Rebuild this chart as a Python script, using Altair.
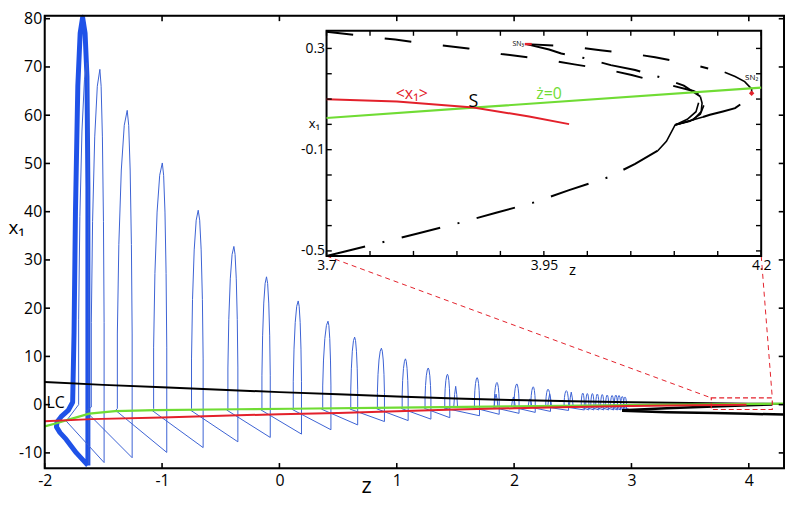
import altair as alt
import pandas as pd

FONT = "Open Sans"
BLUE = "#3b62d4"
BLUE_THICK = "#1f52e8"
RED = "#e3212b"
GREEN = "#70dc34"
BLACK = "#000000"

# ---------------- main frame ----------------
x_ticks = [-2, -1, 0, 1, 2, 3, 4]
y_ticks = [-10, 0, 10, 20, 30, 40, 50, 60, 70, 80]
x_domain = [-2.0, 4.3]
y_domain = [-13.2, 80.6]

# ---------------- main curves ----------------
black_up_z = [-2, -1.5, -1, -0.5, 0, 0.5, 1, 1.5, 2, 2.5, 3, 3.5, 4, 4.3]
black_up_x1 = [4.7, 4.1, 3.6, 3.1, 2.6, 2.15, 1.7, 1.3, 0.95, 0.7, 0.5, 0.35, 0.2, 0.15]
black_lowA_z = [2.92, 3.3, 3.7, 4.0, 4.2]
black_lowA_x1 = [-1.15, -0.75, -0.4, -0.15, 0.05]
black_lowB_z = [2.92, 3.3, 3.7, 4.0, 4.3]
black_lowB_x1 = [-1.25, -1.55, -1.75, -1.9, -2.05]

green_z = [-2, -1.9, -1.76, -1.62, -1.4, -1.06, -0.36, 0.1, 1, 2, 2.96, 4.3]
green_x1 = [-4.5, -3.85, -2.85, -1.85, -1.35, -1.15, -0.95, -0.85, -0.6, -0.35, -0.1, 0.2]

red_z = [-2, -1.6, -1.0, -0.35, 0, 0.5, 1.0, 1.5, 2.0, 2.5, 3.0, 3.5, 3.98]
red_x1 = [-3.45, -3.0, -2.65, -2.2, -2.0, -1.75, -1.35, -1.0, -0.75, -0.5, -0.3, -0.1, 0.0]

# thick (repeated) first cycle
thick_z = [-1.632, -1.632, -1.640, -1.656, -1.677, -1.698, -1.718, -1.738, -1.750, -1.762,
           -1.800, -1.860, -1.895, -1.900, -1.870, -1.817, -1.730, -1.632]
thick_x1 = [-12.6, 45.0, 68.0, 77.0, 80.3, 77.0, 66.0, 40.0, 15.0, 0.5,
            -1.2, -2.5, -3.6, -4.6, -5.8, -7.2, -10.0, -12.6]

# thin trajectory: one entry per spike
spike_peak_z = [-1.640, -1.530, -1.297, -0.998, -0.692, -0.388, -0.110, 0.160, 0.414, 0.641,
                0.869, 1.074, 1.268, 1.432, 1.685, 1.854, 2.023, 2.163, 2.289, 2.445,
                2.585, 2.624, 2.667, 2.709, 2.751, 2.793, 2.835, 2.867, 2.894, 2.922, 2.945]
spike_peak = [70.9, 69.5, 61.0, 50.1, 40.3, 32.8, 26.5, 21.5, 17.3, 14.0,
              11.7, 9.5, 7.6, 6.3, 5.6, 4.6, 4.3, 3.7, 3.2, 2.9,
              2.4, 2.3, 2.3, 2.2, 2.1, 2.0, 1.9, 2.0, 1.9, 1.7, 1.6]
spike_left = [-1.711, -1.603, -1.381, -1.072, -0.749, -0.439, -0.149, 0.118, 0.369, 0.608,
              0.835, 1.046, 1.241, 1.409, 1.662, 1.831, 2.000, 2.143, 2.270, 2.426,
              2.572, 2.611, 2.654, 2.696, 2.738, 2.780, 2.822, 2.854, 2.881, 2.909, 2.932]
spike_right = [-1.625, -1.494, -1.255, -0.960, -0.650, -0.354, -0.078, 0.188, 0.439, 0.667,
               0.895, 1.097, 1.291, 1.452, 1.705, 1.873, 2.042, 2.180, 2.310, 2.464,
               2.598, 2.637, 2.680, 2.722, 2.764, 2.806, 2.848, 2.880, 2.907, 2.935, 2.958]
spike_min = [-12.3, -12.0, -11.0, -9.9, -8.9, -7.7, -6.8, -6.1, -5.2, -4.2,
             -3.5, -3.3, -3.0, -2.7, -2.3, -2.0, -1.8, -1.6, -1.4, -1.2,
             -1.1, -1.1, -1.1, -1.1, -1.1, -1.1, -1.1, -1.1, -1.1, -1.1, -1.1]
spike_base = [0.0, -0.5, -0.8, -0.8, -0.8, -0.8, -0.7, -0.7, -0.6, -0.6,
              -0.5, -0.5, -0.5, -0.4, -0.4, -0.4, -0.3, -0.3, -0.3, -0.3,
              -0.3, -0.3, -0.3, -0.3, -0.3, -0.3, -0.3, -0.3, -0.3, -0.3, -0.3]
corner_z = [-1.817, -1.648, -1.395, -1.085, -0.760, -0.450, -0.160, 0.110, 0.360, 0.600,
            0.828, 1.040, 1.235, 1.403, 1.656, 1.826, 1.995, 2.138, 2.265, 2.420,
            2.568, 2.607, 2.650, 2.692, 2.734, 2.776, 2.818, 2.850, 2.877, 2.905, 2.928]
corner_x1 = [-3.4, -1.4, -1.2, -1.2, -1.1, -1.1, -1.05, -1.0, -0.95, -0.9,
             -0.85, -0.8, -0.75, -0.7, -0.65, -0.6, -0.55, -0.5, -0.45, -0.4,
             -0.5, -0.5, -0.5, -0.5, -0.5, -0.5, -0.5, -0.5, -0.5, -0.5, -0.5]
traj_end_z = 3.0
traj_end_x1 = -1.15

# small secondary spikes inside the late bursts
sec_z = [1.502, 1.846, 1.994, 2.135, 2.303, 2.487]
sec_peak = [3.8, 2.2, 1.6, 1.2, 2.2, 2.6]
sec_base = -0.4

# red dashed zoom box and connectors (main coordinates)
zoom_box_z = [3.68, 4.2]
zoom_box_x1 = [-1.0, 1.4]
conn_z = [0.402, 4.106]
conn_x1 = [30.8, 30.8]
conn_z2 = [3.68, 4.2]
conn_x12 = [1.4, 1.4]

# ---------------- inset ----------------
inset_x_domain = [3.7, 4.2]
inset_y_domain = [-0.52, 0.37]
inset_x_ticks = [3.70, 3.75, 3.80, 3.85, 3.90, 3.95, 4.00, 4.05, 4.10, 4.15, 4.20]
inset_y_ticks = [-0.5, -0.4, -0.3, -0.2, -0.1, 0.0, 0.1, 0.2, 0.3]
inset_x_labels = [3.7, 3.95, 4.2]
inset_y_labels = [-0.5, -0.1, 0.3]

ins_green_z = [3.7, 3.869, 4.2]
ins_green_x1 = [0.025, 0.066, 0.145]
ins_red_z = [3.7, 3.781, 3.869, 3.933, 3.979]
ins_red_x1 = [0.099, 0.090, 0.067, 0.031, 0.001]

# long-dash branches
curveA_z = [3.700, 3.735, 3.779, 3.821, 3.863, 3.901, 3.949, 3.985, 4.025, 4.051, 4.084, 4.122, 4.128]
curveA_x1 = [0.366, 0.352, 0.335, 0.316, 0.300, 0.278, 0.258, 0.237, 0.215, 0.195, 0.165, 0.132, 0.122]
curveC_z = [3.930, 3.983, 4.015, 4.050, 4.078, 4.111, 4.139]
curveC_x1 = [0.317, 0.307, 0.293, 0.280, 0.265, 0.244, 0.221]
# dash-dot branches
curveB_z = [3.930, 3.956, 3.970, 3.998, 4.027, 4.055, 4.084, 4.111, 4.130]
curveB_x1 = [0.317, 0.296, 0.280, 0.261, 0.234, 0.215, 0.186, 0.153, 0.110]
curveD_z = [3.700, 3.720, 3.763, 3.806, 3.853, 3.895, 3.937, 3.979, 4.025, 4.055, 4.081]
curveD_x1 = [-0.520, -0.503, -0.467, -0.430, -0.389, -0.349, -0.310, -0.260, -0.208, -0.156, -0.104]
curveE_z = [4.133, 4.141, 4.156, 4.170, 4.185, 4.189]
curveE_x1 = [0.029, 0.038, 0.051, 0.064, 0.101, 0.123]
# solid pieces
fan1_z = [4.130, 4.132, 4.131, 4.122, 4.101]
fan1_x1 = [0.110, 0.084, 0.051, 0.018, -0.002]
fan2_z = [4.101, 4.115, 4.125, 4.128]
fan2_x1 = [-0.002, 0.020, 0.050, 0.085]
fan3_z = [4.101, 4.118, 4.130, 4.134]
fan3_x1 = [-0.002, 0.012, 0.040, 0.075]
fan4_z = [4.081, 4.091, 4.101, 4.133]
fan4_x1 = [-0.104, -0.067, -0.002, 0.029]
arc_z = [4.158, 4.170, 4.181, 4.189, 4.189]
arc_x1 = [0.206, 0.189, 0.169, 0.140, 0.127]

sn3_z = [3.928, 3.936]
sn3_x1 = [0.317, 0.317]
sn2_z = [4.189]
sn2_x1 = [0.123]

# ---------------- layout ----------------
W, H = 745, 456
INSET_X_RANGE = [284, 722]
INSET_Y_RANGE = [242, 15]
TICK_MAIN = (0.045, 1.1)
TICK_INSET = (0.006, 0.02)

main_xs = alt.Scale(domain=x_domain, nice=False, zero=False)
main_ys = alt.Scale(domain=y_domain, nice=False, zero=False)
main_x_axis = alt.Axis(values=x_ticks, ticks=False, domain=False, grid=False,
                       labelFont=FONT, labelFontSize=16, labelPadding=4, labelColor=BLACK,
                       labelFlush=False, labelOverlap=False, labelExpr="toString(datum.value)",
                       title="z", titleFont=FONT, titleFontSize=22, titleFontWeight="normal",
                       titleColor=BLACK, titleX=324, titleY=24, titleAlign="center",
                       titleBaseline="alphabetic")
main_y_axis = alt.Axis(values=y_ticks, ticks=False, domain=False, grid=False,
                       labelFont=FONT, labelFontSize=16, labelPadding=3, labelColor=BLACK,
                       labelFlush=False, labelOverlap=False, labelExpr="toString(datum.value)",
                       title="x₁", titleFont=FONT, titleFontSize=19, titleFontWeight="normal",
                       titleColor=BLACK, titleAngle=0, titleX=-37, titleY=213,
                       titleAlign="left", titleBaseline="middle")

ins_xs = alt.Scale(domain=inset_x_domain, range=INSET_X_RANGE, nice=False, zero=False)
ins_ys = alt.Scale(domain=inset_y_domain, range=INSET_Y_RANGE, nice=False, zero=False)
ins_x_axis = alt.Axis(orient="bottom", offset=INSET_Y_RANGE[0] - H, values=inset_x_labels,
                      ticks=False, domain=False, grid=False, labelFont=FONT, labelFontSize=14,
                      labelPadding=3, labelColor=BLACK, labelFlush=False, labelOverlap=False,
                      labelExpr="toString(datum.value)")
ins_y_axis = alt.Axis(orient="left", offset=-INSET_X_RANGE[0], values=inset_y_labels,
                      ticks=False, domain=False, grid=False, labelFont=FONT, labelFontSize=14,
                      labelPadding=2, labelColor=BLACK, labelFlush=False, labelOverlap=False,
                      labelExpr="toString(datum.value)")


def MX(f):
    return alt.X(f, type="quantitative", scale=main_xs, axis=main_x_axis)


def MY(f):
    return alt.Y(f, type="quantitative", scale=main_ys, axis=main_y_axis)


def IX(f):
    return alt.X(f, type="quantitative", scale=ins_xs, axis=ins_x_axis, title=None)


def IY(f):
    return alt.Y(f, type="quantitative", scale=ins_ys, axis=ins_y_axis, title=None)


def series(z, x1, name="s"):
    return pd.DataFrame({"z": z, "x1": x1, "i": list(range(len(z))), "c": name})


def multi(curves):
    return pd.concat([series(z, x, n) for n, (z, x) in curves.items()], ignore_index=True)


def tick_frame(xs, ys, xlim, ylim, lx, ly):
    rows = []
    for v in xs:
        rows.append(dict(x=v, x2=v, y=ylim[0], y2=ylim[0] + ly))
        rows.append(dict(x=v, x2=v, y=ylim[1], y2=ylim[1] - ly))
    for v in ys:
        rows.append(dict(x=xlim[0], x2=xlim[0] + lx, y=v, y2=v))
        rows.append(dict(x=xlim[1], x2=xlim[1] - lx, y=v, y2=v))
    return pd.DataFrame(rows)


# blue trajectory through all spikes
SHAPE_SIDE = [(1.0, 0.25), (0.85, 0.55), (0.6, 0.8), (0.3, 0.95), (0.0, 1.0)]
traj = []


def add(z, v):
    traj.append({"z": z, "x1": v, "i": len(traj)})


for k in range(len(spike_peak_z)):
    a, b, pz, P = spike_left[k], spike_right[k], spike_peak_z[k], spike_peak[k]
    m, c = spike_min[k], spike_base[k]
    h = P - c
    add(b, m)
    for u, v in SHAPE_SIDE:
        add(pz + u * (b - pz), c + v * h)
    for u, v in reversed(SHAPE_SIDE[:-1]):
        add(pz - u * (pz - a), c + v * h)
    add(a, c)
    add(corner_z[k], corner_x1[k])
add(traj_end_z, traj_end_x1)
traj_df = pd.DataFrame(traj)

SEC_SHAPE = [(-0.016, 0.0), (-0.009, 0.6), (0.0, 1.0), (0.009, 0.6), (0.016, 0.0)]
sec_rows = []
for g, (sz, sp) in enumerate(zip(sec_z, sec_peak)):
    for j, (du, v) in enumerate(SEC_SHAPE):
        sec_rows.append({"z": sz + du, "x1": sec_base + v * (sp - sec_base), "i": j, "g": g})
sec_df = pd.DataFrame(sec_rows)

# ---------------- main layers ----------------
line_enc = dict(x=MX("z"), y=MY("x1"), order=alt.Order("i:Q"), detail="c:N")

thick = alt.Chart(series(thick_z, thick_x1)).mark_line(color=BLUE_THICK, strokeWidth=5, strokeJoin="round").encode(**line_enc)
thin = alt.Chart(traj_df).mark_line(color=BLUE, strokeWidth=1).encode(
    x=MX("z"), y=MY("x1"), order=alt.Order("i:Q"))
sec = alt.Chart(sec_df).mark_line(color=BLUE, strokeWidth=1).encode(
    x=MX("z"), y=MY("x1"), order=alt.Order("i:Q"), detail="g:N")
black_up = alt.Chart(series(black_up_z, black_up_x1)).mark_line(color=BLACK, strokeWidth=2).encode(**line_enc)
black_low = alt.Chart(multi({"A": (black_lowA_z, black_lowA_x1), "B": (black_lowB_z, black_lowB_x1)})).mark_line(
    color=BLACK, strokeWidth=2.5).encode(**line_enc)
green = alt.Chart(series(green_z, green_x1)).mark_line(color=GREEN, strokeWidth=2.2).encode(**line_enc)
red = alt.Chart(series(red_z, red_x1)).mark_line(color=RED, strokeWidth=2).encode(**line_enc)

box_df = pd.DataFrame({"z": [zoom_box_z[0]], "z2": [zoom_box_z[1]], "y": [zoom_box_x1[0]], "y2": [zoom_box_x1[1]]})
zoom_box = alt.Chart(box_df).mark_rect(fill="white", fillOpacity=0, stroke=RED, strokeWidth=1.2,
                                       strokeDash=[5, 3]).encode(x=MX("z"), x2="z2", y=MY("y"), y2="y2")
conn_df = pd.DataFrame({"z": conn_z, "z2": conn_z2, "y": conn_x1, "y2": conn_x12})
conn = alt.Chart(conn_df).mark_rule(color=RED, strokeWidth=1, strokeDash=[5, 4]).encode(
    x=MX("z"), x2="z2", y=MY("y"), y2="y2")
lc_df = pd.DataFrame({"z": [-1.985], "x1": [0.3], "t": ["LC"]})
lc = alt.Chart(lc_df).mark_text(font=FONT, fontSize=16, align="left", baseline="middle", color=BLACK).encode(
    x=MX("z"), y=MY("x1"), text="t:N")
mticks = alt.Chart(tick_frame(x_ticks, y_ticks, x_domain, y_domain, *TICK_MAIN)).mark_rule(
    color=BLACK, strokeWidth=1.6).encode(x=MX("x"), x2="x2", y=MY("y"), y2="y2")
mframe_df = pd.DataFrame({"z": [x_domain[0]], "z2": [x_domain[1]], "y": [y_domain[0]], "y2": [y_domain[1]]})
mframe = alt.Chart(mframe_df).mark_rect(fill="white", fillOpacity=0, stroke=BLACK, strokeWidth=2).encode(
    x=MX("z"), x2="z2", y=MY("y"), y2="y2")

main = alt.layer(thick, thin, sec, black_up, black_low, green, red, zoom_box, conn, lc, mticks, mframe)

# ---------------- inset layers ----------------
iline_enc = dict(x=IX("z"), y=IY("x1"), order=alt.Order("i:Q"), detail="c:N")

frame_df = pd.DataFrame({"z": [inset_x_domain[0]], "z2": [inset_x_domain[1]],
                         "y": [inset_y_domain[0]], "y2": [inset_y_domain[1]]})
frame = alt.Chart(frame_df).mark_rect(fill="white", stroke=BLACK, strokeWidth=2).encode(
    x=IX("z"), x2="z2", y=IY("y"), y2="y2")
long_dash = alt.Chart(multi({"A": (curveA_z, curveA_x1), "C": (curveC_z, curveC_x1)})).mark_line(
    color=BLACK, strokeWidth=2, strokeDash=[27, 32]).encode(**iline_enc)
dash_dot = alt.Chart(multi({"B": (curveB_z, curveB_x1), "D": (curveD_z, curveD_x1),
                            "E": (curveE_z, curveE_x1)})).mark_line(
    color=BLACK, strokeWidth=2, strokeDash=[40, 18, 2, 18]).encode(**iline_enc)
solid = alt.Chart(multi({"f1": (fan1_z, fan1_x1), "f2": (fan2_z, fan2_x1), "f3": (fan3_z, fan3_x1),
                         "f4": (fan4_z, fan4_x1), "arc": (arc_z, arc_x1)})).mark_line(
    color=BLACK, strokeWidth=1.6).encode(**iline_enc)
igreen = alt.Chart(series(ins_green_z, ins_green_x1)).mark_line(color=GREEN, strokeWidth=2.2).encode(**iline_enc)
ired = alt.Chart(series(ins_red_z, ins_red_x1)).mark_line(color=RED, strokeWidth=2).encode(**iline_enc)
sn3 = alt.Chart(series(sn3_z, sn3_x1)).mark_line(color=RED, strokeWidth=2.5).encode(**iline_enc)
sn2 = alt.Chart(series(sn2_z, sn2_x1)).mark_point(shape="diamond", filled=True, color=RED, size=30, opacity=1).encode(
    x=IX("z"), y=IY("x1"))

labels = pd.DataFrame({
    "z": [3.798, 3.869, 3.956, 3.927, 4.189, 3.983, 3.686],
    "x1": [0.118, 0.090, 0.118, 0.318, 0.185, -0.575, 0.0],
    "t": ["<x₁>", "S", "ż=0", "SN₃", "SN₂", "z", "x₁"],
    "col": ["r", "k", "g", "k", "k", "k", "k"],
    "size": [16, 18, 16, 7, 8, 15, 13],
    "al": ["center", "center", "center", "right", "center", "center", "center"],
})


def itext(df, align):
    return alt.Chart(df).mark_text(font=FONT, baseline="middle", align=align).encode(
        x=IX("z"), y=IY("x1"), text="t:N",
        color=alt.Color("col:N", scale=alt.Scale(domain=["r", "k", "g"], range=[RED, BLACK, GREEN]), legend=None),
        size=alt.Size("size:Q", scale=None, legend=None))


itexts_c = itext(labels[labels["al"] == "center"], "center")
itexts_r = itext(labels[labels["al"] == "right"], "right")
iticks = alt.Chart(tick_frame(inset_x_ticks, inset_y_ticks, inset_x_domain, inset_y_domain, *TICK_INSET)).mark_rule(
    color=BLACK, strokeWidth=1.4).encode(x=IX("x"), x2="x2", y=IY("y"), y2="y2")

inset = alt.layer(frame, long_dash, dash_dot, solid, igreen, ired, sn3, sn2, itexts_c, itexts_r, iticks)

chart = alt.layer(main, inset).resolve_scale(x="independent", y="independent").properties(
    width=W, height=H,
    autosize=alt.AutoSizeParams(type="none"),
    padding={"left": 37, "top": 6, "right": 2, "bottom": 28},
).configure_view(stroke=None).configure(font=FONT)

chart.save("out.html", embed_options={"renderer": "svg", "actions": False})
